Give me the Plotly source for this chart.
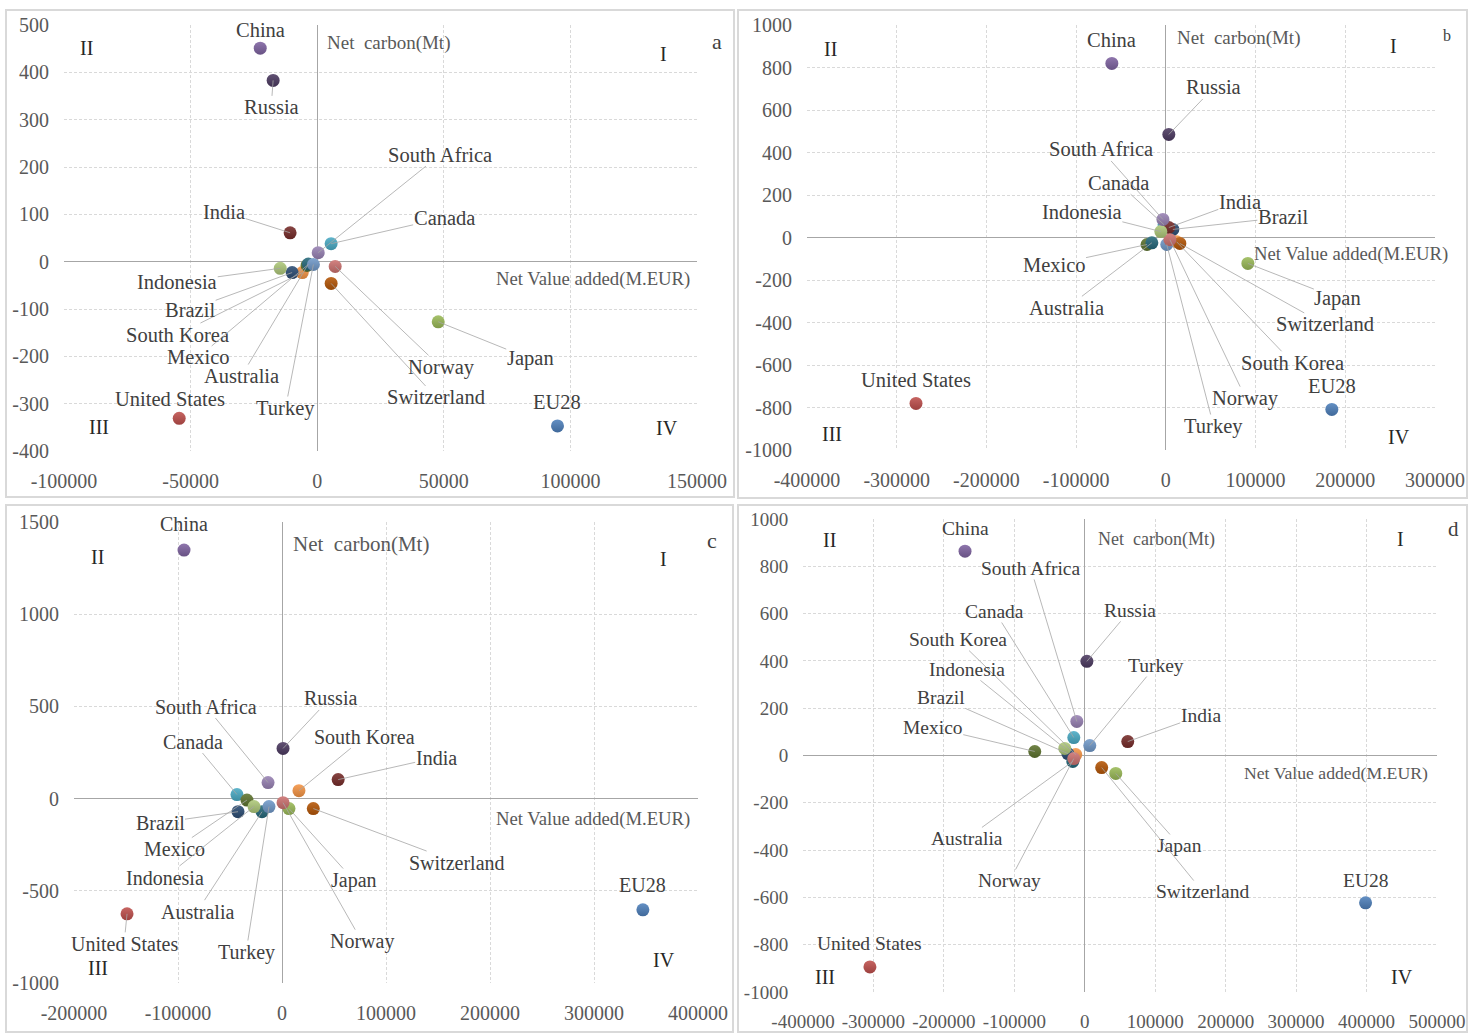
import plotly.graph_objects as go

W, H = 1483, 1033

# ---- data ------------------------------------------------------------------
COUNTRIES = ["EU28", "United States", "Japan", "China", "Canada", "South Korea",
             "Brazil", "India", "Mexico", "Russia", "Australia", "Switzerland",
             "Turkey", "Norway", "Indonesia", "South Africa"]

# (a) net value added (M.EUR) and net carbon (Mt)
A_VALUE_ADDED = [94900, -54500, 47800, -22500, 5500, -5900, -9900, -10700,
                 -4000, -17400, -3500, 5500, -1500, 7100, -14600, 400]
A_CARBON = [-347, -331, -127, 451, 38, -23, -23, 61, -8, 383, -5, -46, -6, -10, -14, 19]
A_XTICKS = [-100000, -50000, 0, 50000, 100000, 150000]
A_YTICKS = [-400, -300, -200, -100, 0, 100, 200, 300, 400, 500]

# (b)
B_VALUE_ADDED = [185000, -278500, 91400, -60200, -2000, 12000, 7800, 3300,
                 -21000, 3300, -15600, 15600, 1000, 4500, -5600, -3300]
B_CARBON = [-809, -781, -122, 819, 60, -20, 38, 47, -33, 485, -25, -28, -33, -10, 28, 85]
B_XTICKS = [-400000, -300000, -200000, -100000, 0, 100000, 200000, 300000]
B_YTICKS = [-1000, -800, -600, -400, -200, 0, 200, 400, 600, 800, 1000]

# (c)
C_VALUE_ADDED = [347000, -149000, 6700, -94200, -43300, 16300, -42300, 54000,
                 -33700, 1000, -19200, 30100, -12500, 1000, -26900, -13400]
C_CARBON = [-603, -625, -54, 1348, 22, 43, -71, 103, -8, 272, -71, -54, -43, -22, -43, 87]
C_XTICKS = [-200000, -100000, 0, 100000, 200000, 300000, 400000]
C_YTICKS = [-1000, -500, 0, 500, 1000, 1500]

# (d)
D_VALUE_ADDED = [398600, -305000, 44000, -170000, -15600, -12800, -24000, 61000,
                 -71000, 3000, -17000, 24000, 7100, -15600, -28400, -11300]
D_CARBON = [-623, -894, -76, 864, 76, 4, 8, 59, 17, 398, -25, -51, 42, -13, 30, 144]
D_XTICKS = [-400000, -300000, -200000, -100000, 0, 100000, 200000, 300000, 400000, 500000]
D_YTICKS = [-1000, -800, -600, -400, -200, 0, 200, 400, 600, 800, 1000]

# ---- styling -----------------------------------------------------------------
COLORS = {
    "EU28": "#4F81BD", "United States": "#C0504D", "Japan": "#9BBB59",
    "China": "#8064A2", "Canada": "#4BACC6", "South Korea": "#F79646",
    "Brazil": "#2C4D75", "India": "#772C2A", "Mexico": "#5F7530",
    "Russia": "#4D3B62", "Australia": "#276A7C", "Switzerland": "#B65708",
    "Turkey": "#729ACA", "Norway": "#CD7371", "Indonesia": "#AFC97A",
    "South Africa": "#9983B5",
}

SERIF = "Liberation Serif, Times New Roman, serif"
TICK_COLOR = "#595959"
LABEL_COLOR = "#404040"
GRID_COLOR = "#d9d9d9"
ZERO_COLOR = "#a6a6a6"
LEADER_COLOR = "#a6a6a6"


def shade(hex_color, f):
    """Lighten (f > 0) or darken (f < 0) a hex colour."""
    r, g, b = (int(hex_color[k:k + 2], 16) for k in (1, 3, 5))
    if f >= 0:
        r, g, b = (int(c + (255 - c) * f) for c in (r, g, b))
    else:
        r, g, b = (int(c * (1 + f)) for c in (r, g, b))
    return f"#{r:02x}{g:02x}{b:02x}"


# label placement: pixel offset of label centre from its marker, leader line on/off
A_LABELS = {
    "China": (0, -18, False), "Russia": (-2, 27, True), "India": (-66, -21, True),
    "South Africa": (122, -98, True), "Canada": (113, -26, True),
    "Indonesia": (-103, 14, True), "Brazil": (-102, 37, True),
    "South Korea": (-125, 62, True), "Mexico": (-109, 92, True),
    "Australia": (-67, 112, True), "Turkey": (-28, 144, True),
    "United States": (-9, -19, False), "EU28": (0, -24, False),
    "Japan": (92, 37, True), "Norway": (106, 101, True), "Switzerland": (105, 114, True),
}
B_LABELS = {
    "China": (0, -23, False), "Russia": (45, -47, True), "South Africa": (-62, -70, True),
    "Canada": (-46, -42, True), "Indonesia": (-79, -20, True), "India": (71, -26, True),
    "Brazil": (110, -12, True), "Mexico": (-93, 20, True), "Australia": (-85, 65, True),
    "Japan": (90, 35, True), "Switzerland": (145, 81, True), "South Korea": (116, 121, True),
    "Norway": (76, 159, True), "Turkey": (47, 182, True), "EU28": (0, -23, False),
    "United States": (0, -23, False),
}
C_LABELS = {
    "China": (0, -26, False), "Russia": (47, -50, True), "South Africa": (-62, -76, True),
    "Canada": (-44, -53, True), "South Korea": (66, -54, True), "India": (98, -22, True),
    "Brazil": (-78, 11, True), "Mexico": (-72, 49, True), "Indonesia": (-89, 71, True),
    "Australia": (-65, 100, True), "Turkey": (-23, 146, True), "Japan": (65, 72, True),
    "Norway": (79, 139, True), "Switzerland": (144, 54, True),
    "United States": (-3, 30, True), "EU28": (0, -25, False),
}
D_LABELS = {
    "China": (0, -23, False), "South Africa": (-46, -153, True), "Canada": (-79, -126, True),
    "Russia": (43, -51, True), "South Korea": (-118, -115, True), "Turkey": (66, -80, True),
    "Indonesia": (-98, -79, True), "Brazil": (-127, -56, True), "India": (73, -26, True),
    "Mexico": (-102, -24, True), "Australia": (-106, 77, True), "Japan": (64, 72, True),
    "Norway": (-64, 122, True), "Switzerland": (101, 124, True), "EU28": (0, -22, False),
    "United States": (0, -23, False),
}

PANELS = [
    dict(letter="a", xs=A_VALUE_ADDED, ys=A_CARBON, labels=A_LABELS,
         xticks=A_XTICKS, yticks=A_YTICKS,
         plot=(64, 25, 697, 451), frame=(6, 10, 734, 497),
         label_size=20.5, tick_size=20, carbon_size=19, value_size=18.7,
         carbon_at=(325, 43), value_at=(692, 279),
         quads=[("II", 86, 48), ("I", 663, 54), ("III", 99, 427), ("IV", 667, 428)],
         letter_at=(717, 41, 22)),
    dict(letter="b", xs=B_VALUE_ADDED, ys=B_CARBON, labels=B_LABELS,
         xticks=B_XTICKS, yticks=B_YTICKS,
         plot=(807, 25, 1435, 450), frame=(738, 10, 1467, 498),
         label_size=20.5, tick_size=20, carbon_size=19, value_size=18.7,
         carbon_at=(1175, 38), value_at=(1450, 254),
         quads=[("II", 830, 49), ("I", 1393, 46), ("III", 832, 434), ("IV", 1399, 437)],
         letter_at=(1447, 36, 16)),
    dict(letter="c", xs=C_VALUE_ADDED, ys=C_CARBON, labels=C_LABELS,
         xticks=C_XTICKS, yticks=C_YTICKS,
         plot=(74, 522, 698, 983), frame=(6, 505, 733, 1032),
         label_size=20, tick_size=20, carbon_size=21, value_size=18.7,
         carbon_at=(291, 544), value_at=(692, 819),
         quads=[("II", 98, 557), ("I", 663, 559), ("III", 98, 968), ("IV", 664, 960)],
         letter_at=(712, 540, 22)),
    dict(letter="d", xs=D_VALUE_ADDED, ys=D_CARBON, labels=D_LABELS,
         xticks=D_XTICKS, yticks=D_YTICKS,
         plot=(803, 519, 1437, 992), frame=(738, 505, 1467, 1032),
         label_size=19.5, tick_size=19, carbon_size=18, value_size=17.7,
         carbon_at=(1096, 539), value_at=(1430, 773),
         quads=[("II", 829, 540), ("I", 1400, 539), ("III", 825, 977), ("IV", 1402, 977)],
         letter_at=(1453, 529, 21)),
]


def px_x(x):
    return x / W


def px_y(y):
    return 1 - y / H


fig = go.Figure()
annotations = []
shapes = []
layout_axes = {}

for i, p in enumerate(PANELS, start=1):
    xa = "x" if i == 1 else f"x{i}"
    ya = "y" if i == 1 else f"y{i}"
    x0, y0, x1, y1 = p["plot"]

    axis_common = dict(
        showgrid=True, gridcolor=GRID_COLOR, griddash="3px,2px", gridwidth=1,
        zeroline=True, zerolinecolor=ZERO_COLOR, zerolinewidth=1.3,
        showline=False, ticks="outside", tickcolor="rgba(0,0,0,0)",
        tickfont=dict(family=SERIF, size=p["tick_size"], color=TICK_COLOR),
        tickmode="array", fixedrange=True, automargin=False,
    )
    layout_axes["xaxis" if i == 1 else f"xaxis{i}"] = dict(
        axis_common, domain=[px_x(x0), px_x(x1)], anchor=ya,
        range=[min(p["xticks"]), max(p["xticks"])],
        tickvals=p["xticks"], ticktext=[str(v) for v in p["xticks"]], ticklen=12,
    )
    layout_axes["yaxis" if i == 1 else f"yaxis{i}"] = dict(
        axis_common, domain=[px_y(y1), px_y(y0)], anchor=xa,
        range=[min(p["yticks"]), max(p["yticks"])],
        tickvals=p["yticks"], ticktext=[str(v) for v in p["yticks"]], ticklen=10,
    )

    # one scatter trace per country so each keeps its own colour
    for name, vx, vy in zip(COUNTRIES, p["xs"], p["ys"]):
        base = COLORS[name]
        fig.add_trace(go.Scatter(
            x=[vx], y=[vy], mode="markers", name=name, showlegend=False,
            xaxis=xa, yaxis=ya,
            marker=dict(size=13, color=shade(base, 0.12), line=dict(width=0),
                        gradient=dict(type="vertical", color=shade(base, -0.18))),
            hoverinfo="skip",
        ))
        dx, dy, leader = p["labels"][name]
        annotations.append(dict(
            x=vx, y=vy, xref=xa, yref=ya, text=name,
            showarrow=True, arrowhead=0, arrowwidth=0.8, standoff=0, startstandoff=0,
            arrowcolor=LEADER_COLOR if leader else "rgba(0,0,0,0)",
            ax=dx, ay=dy, borderpad=0,
            font=dict(family=SERIF, size=p["label_size"], color=LABEL_COLOR),
        ))

    # axis captions
    annotations.append(dict(
        x=px_x(p["carbon_at"][0]), y=px_y(p["carbon_at"][1]), xref="paper", yref="paper",
        text="Net\u00a0 carbon(Mt)", showarrow=False, xanchor="left", yanchor="middle",
        font=dict(family=SERIF, size=p["carbon_size"], color=TICK_COLOR),
    ))
    annotations.append(dict(
        x=px_x(p["value_at"][0]), y=px_y(p["value_at"][1]), xref="paper", yref="paper",
        text="Net Value added(M.EUR)", showarrow=False, xanchor="right", yanchor="middle",
        font=dict(family=SERIF, size=p["value_size"], color=TICK_COLOR),
    ))
    # quadrant numerals
    for txt, qx, qy in p["quads"]:
        annotations.append(dict(
            x=px_x(qx), y=px_y(qy), xref="paper", yref="paper", text=txt,
            showarrow=False, xanchor="center", yanchor="middle",
            font=dict(family=SERIF, size=20, color="#262626"),
        ))
    lx, ly, ls = p["letter_at"]
    annotations.append(dict(
        x=px_x(lx), y=px_y(ly), xref="paper", yref="paper", text=p["letter"],
        showarrow=False, xanchor="center", yanchor="middle",
        font=dict(family=SERIF, size=ls, color="#404040"),
    ))

    # panel frame
    fx0, fy0, fx1, fy1 = p["frame"]
    shapes.append(dict(
        type="rect", xref="paper", yref="paper",
        x0=px_x(fx0), x1=px_x(fx1), y0=px_y(fy1), y1=px_y(fy0),
        line=dict(color="#d9d9d9", width=2), fillcolor="rgba(0,0,0,0)", layer="below",
    ))

fig.update_layout(
    width=W, height=H, margin=dict(l=0, r=0, t=0, b=0, autoexpand=False),
    paper_bgcolor="white", plot_bgcolor="white",
    annotations=annotations, shapes=shapes, showlegend=False,
    **layout_axes,
)

fig.write_html("out.html")
